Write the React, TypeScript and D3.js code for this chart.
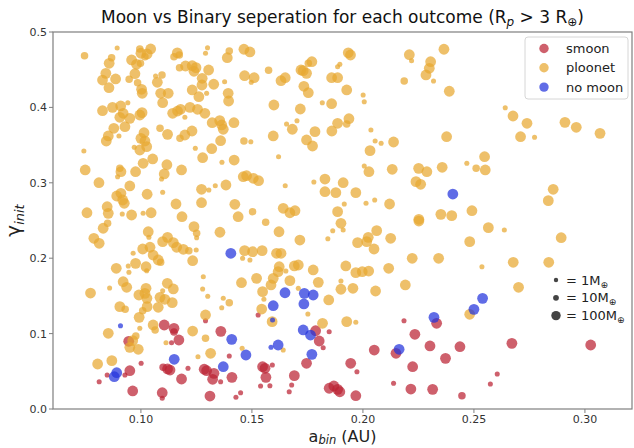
import React from "react";
import * as d3 from "d3";

// [a_bin (AU), gamma_init, planet mass (M_earth)]
const smoonPoints: [number, number, number][] = [
  [0.1291, 0.1171, 3], [0.1528, 0.1247, 3], [0.1105, 0.1114, 200], [0.1149, 0.107, 200],
  [0.1149, 0.1021, 30], [0.1171, 0.0915, 200], [0.1138, 0.0879, 3], [0.136, 0.103, 200],
  [0.0945, 0.0898, 200], [0.1398, 0.0703, 3], [0.0848, 0.0451, 3], [0.0812, 0.0362, 3],
  [0.0928, 0.0451, 3], [0.095, 0.0508, 200], [0.1001, 0.0606, 3], [0.11, 0.0553, 30],
  [0.112, 0.0531, 200], [0.1131, 0.0517, 200], [0.1183, 0.0398, 200], [0.1212, 0.054, 3],
  [0.1285, 0.0527, 200], [0.1296, 0.0508, 200], [0.1329, 0.0473, 200], [0.1323, 0.0394, 200],
  [0.1359, 0.0362, 3], [0.141, 0.042, 200], [0.1548, 0.0561, 200], [0.1559, 0.054, 200],
  [0.1592, 0.0584, 3], [0.1563, 0.042, 200], [0.1691, 0.0442, 200], [0.1746, 0.0606, 200],
  [0.1539, 0.0305, 3], [0.1581, 0.0309, 3], [0.1679, 0.0318, 3], [0.1668, 0.0229, 3],
  [0.0963, 0.0239, 200], [0.1096, 0.0216, 200], [0.1096, 0.0142, 3], [0.1311, 0.0172, 200],
  [0.1428, 0.0155, 3], [0.1449, 0.0216, 3], [0.1787, 0.1038, 200], [0.1848, 0.1025, 3],
  [0.1803, 0.0902, 200], [0.1821, 0.0813, 3], [0.2185, 0.1171, 3], [0.2332, 0.1137, 200],
  [0.2234, 0.0991, 200], [0.2302, 0.0836, 200], [0.2437, 0.0826, 200], [0.2671, 0.0871, 200],
  [0.3026, 0.0849, 200], [0.2051, 0.0782, 200], [0.2149, 0.0739, 200], [0.2372, 0.0672, 200],
  [0.1945, 0.0606, 200], [0.2224, 0.0561, 200], [0.1973, 0.0495, 3], [0.2605, 0.0464, 3],
  [0.2574, 0.0332, 3], [0.2138, 0.0341, 3], [0.2216, 0.0265, 200], [0.2314, 0.0261, 200],
  [0.2446, 0.0176, 30], [0.1848, 0.0275, 200], [0.1869, 0.0305, 200], [0.1886, 0.0261, 200],
  [0.1896, 0.0229, 200], [0.1968, 0.0176, 200],
];

const ploonetPoints: [number, number, number][] = [
  [0.0746, 0.4686, 30], [0.0893, 0.4788, 3], [0.0995, 0.4775, 30], [0.1044, 0.4775, 200],
  [0.1028, 0.4708, 200], [0.1, 0.4718, 200], [0.0868, 0.4659, 30], [0.0857, 0.4585, 200],
  [0.0958, 0.4629, 200], [0.098, 0.4572, 200], [0.0998, 0.4585, 30], [0.1018, 0.4672, 30],
  [0.1164, 0.4724, 200], [0.1149, 0.4672, 30], [0.1173, 0.4695, 30], [0.13, 0.4792, 3],
  [0.1291, 0.4718, 3], [0.1398, 0.4748, 30], [0.1389, 0.4659, 200], [0.1464, 0.4771, 200],
  [0.1491, 0.4735, 200], [0.1174, 0.4527, 30], [0.1201, 0.4549, 200], [0.1231, 0.4553, 200],
  [0.1248, 0.4527, 200], [0.1239, 0.4479, 200], [0.1305, 0.4496, 200], [0.0842, 0.4452, 200],
  [0.0827, 0.4363, 200], [0.0886, 0.4377, 200], [0.0856, 0.4261, 200], [0.0947, 0.4373, 30],
  [0.0973, 0.4447, 200], [0.0985, 0.4328, 30], [0.1003, 0.424, 200], [0.1006, 0.4187, 200],
  [0.1066, 0.4416, 3], [0.1095, 0.443, 30], [0.1074, 0.4333, 200], [0.1089, 0.4187, 200],
  [0.1123, 0.4187, 200], [0.1098, 0.4062, 200], [0.1276, 0.4386, 200], [0.1275, 0.4297, 200],
  [0.1231, 0.4231, 200], [0.1261, 0.4142, 200], [0.1296, 0.4187, 3], [0.1328, 0.4307, 200],
  [0.1377, 0.4341, 3], [0.1393, 0.4187, 200], [0.1395, 0.4085, 200], [0.1467, 0.442, 200],
  [0.151, 0.4394, 200], [0.1497, 0.4333, 3], [0.1575, 0.4492, 30], [0.1631, 0.4354, 200],
  [0.165, 0.4394, 200], [0.1721, 0.4496, 200], [0.1754, 0.4585, 30], [0.1734, 0.428, 200],
  [0.1754, 0.4195, 200], [0.1599, 0.4032, 200], [0.1718, 0.3979, 200], [0.0827, 0.3956, 200],
  [0.0872, 0.4001, 200], [0.0909, 0.4019, 200], [0.0941, 0.4062, 3], [0.092, 0.3922, 200],
  [0.0905, 0.3869, 200], [0.095, 0.3855, 200], [0.0928, 0.3744, 200], [0.0878, 0.3723, 200],
  [0.0995, 0.3899, 200], [0.1005, 0.393, 200], [0.1143, 0.3922, 200], [0.1165, 0.3952, 200],
  [0.1179, 0.3975, 200], [0.1198, 0.3869, 3], [0.1221, 0.4001, 200], [0.1255, 0.3975, 200],
  [0.1288, 0.3922, 200], [0.1321, 0.3797, 200], [0.1355, 0.3824, 200], [0.1364, 0.3767, 200],
  [0.1371, 0.371, 200], [0.1419, 0.3797, 200], [0.0853, 0.3621, 200], [0.0844, 0.3554, 200],
  [0.0901, 0.3621, 3], [0.1014, 0.3664, 200], [0.1, 0.359, 200], [0.1018, 0.3554, 200],
  [0.097, 0.3471, 3], [0.0995, 0.3435, 200], [0.1026, 0.3479, 200], [0.1086, 0.3723, 30],
  [0.112, 0.3643, 200], [0.1176, 0.359, 30], [0.1198, 0.3634, 200], [0.123, 0.3687, 200],
  [0.1359, 0.3558, 200], [0.1245, 0.3458, 3], [0.1319, 0.3452, 200], [0.1464, 0.3554, 30],
  [0.1495, 0.3545, 3], [0.1596, 0.3621, 200], [0.1656, 0.378, 3], [0.1682, 0.371, 200],
  [0.1703, 0.3824, 3], [0.1746, 0.3568, 200], [0.0743, 0.3422, 3], [0.1278, 0.3333, 200],
  [0.1365, 0.3272, 3], [0.142, 0.3302, 200], [0.162, 0.3346, 3], [0.1053, 0.3316, 200],
  [0.101, 0.3259, 200], [0.0749, 0.317, 200], [0.0905, 0.3192, 30], [0.091, 0.3147, 200],
  [0.0895, 0.3081, 3], [0.0976, 0.3147, 200], [0.1117, 0.324, 200], [0.1105, 0.3117, 200],
  [0.1093, 0.305, 3], [0.1183, 0.317, 200], [0.0811, 0.3001, 200], [0.095, 0.2958, 200],
  [0.1461, 0.3081, 200], [0.1476, 0.3094, 200], [0.1506, 0.306, 200], [0.153, 0.3028, 200],
  [0.1273, 0.2914, 200], [0.1306, 0.2905, 3], [0.1335, 0.2962, 3], [0.1383, 0.2971, 200],
  [0.165, 0.2962, 3], [0.0891, 0.2825, 200], [0.091, 0.2861, 200], [0.0925, 0.2728, 200],
  [0.0918, 0.2772, 200], [0.1028, 0.2848, 200], [0.1098, 0.2874, 3], [0.1158, 0.2719, 200],
  [0.1273, 0.2736, 200], [0.1423, 0.2715, 200], [0.0848, 0.2683, 200], [0.0853, 0.2595, 200],
  [0.0757, 0.2603, 200], [0.0916, 0.2586, 3], [0.0958, 0.2573, 200], [0.101, 0.2595, 3],
  [0.1046, 0.2603, 200], [0.1185, 0.255, 200], [0.1438, 0.255, 200], [0.1503, 0.2617, 30],
  [0.1641, 0.2662, 200], [0.1671, 0.2603, 200], [0.1694, 0.263, 200],
  [0.2365, 0.4771, 200], [0.2209, 0.4699, 200], [0.2219, 0.4619, 3], [0.2305, 0.4606, 200],
  [0.2299, 0.4519, 200], [0.2284, 0.443, 200], [0.2186, 0.435, 30], [0.2318, 0.435, 3],
  [0.2389, 0.4214, 200], [0.1934, 0.4724, 200], [0.1944, 0.4695, 200], [0.177, 0.4606, 200],
  [0.1731, 0.4487, 200], [0.1746, 0.4452, 200], [0.1896, 0.4572, 3], [0.1886, 0.454, 3],
  [0.1859, 0.4394, 200], [0.1886, 0.4394, 200], [0.1927, 0.4231, 200], [0.2001, 0.4164, 3],
  [0.2006, 0.4076, 3], [0.1817, 0.4062, 3], [0.1859, 0.4049, 200], [0.1937, 0.385, 200],
  [0.1886, 0.3789, 200], [0.1927, 0.378, 30], [0.186, 0.3687, 200], [0.1784, 0.3678, 200],
  [0.1773, 0.3488, 200], [0.2036, 0.37, 3], [0.2055, 0.3554, 3], [0.2082, 0.3524, 3],
  [0.2138, 0.3541, 200], [0.2032, 0.3426, 200], [0.2377, 0.3611, 200], [0.2641, 0.3996, 3],
  [0.2676, 0.3886, 200], [0.2739, 0.3789, 200], [0.271, 0.3611, 200], [0.2773, 0.3603, 3],
  [0.291, 0.3802, 200], [0.2961, 0.3736, 200], [0.3068, 0.3656, 200], [0.2006, 0.3223, 3],
  [0.2027, 0.3147, 200], [0.2132, 0.3179, 200], [0.2251, 0.3192, 200], [0.2288, 0.3147, 200],
  [0.2357, 0.3206, 200], [0.2468, 0.3259, 3], [0.251, 0.3192, 30], [0.2551, 0.317, 200],
  [0.2548, 0.3346, 200], [0.1779, 0.3011, 3], [0.1829, 0.305, 200], [0.1911, 0.3001, 200],
  [0.1829, 0.2882, 200], [0.1878, 0.2869, 200], [0.1968, 0.2869, 200], [0.2239, 0.3015, 200],
  [0.226, 0.298, 200], [0.2857, 0.2914, 200], [0.2835, 0.2763, 200], [0.1916, 0.2719, 3],
  [0.2014, 0.2728, 3], [0.2053, 0.2772, 3], [0.212, 0.2719, 200], [0.1886, 0.2617, 200],
  [0.2351, 0.2582, 200], [0.24, 0.2564, 200], [0.2491, 0.263, 200], [0.2252, 0.2516, 200],
  [0.083, 0.2397, 200], [0.085, 0.2463, 30], [0.0788, 0.2264, 200], [0.0812, 0.2198, 200],
  [0.1033, 0.2351, 200], [0.1036, 0.2277, 3], [0.1239, 0.2418, 200], [0.1251, 0.233, 30],
  [0.1251, 0.2272, 3], [0.1356, 0.2344, 200], [0.1562, 0.2476, 30], [0.1622, 0.2351, 200],
  [0.1716, 0.2241, 200], [0.1098, 0.2219, 200], [0.112, 0.2277, 200], [0.1146, 0.2206, 200],
  [0.1161, 0.2145, 200], [0.1191, 0.2118, 200], [0.1216, 0.21, 30], [0.1249, 0.2109, 3],
  [0.1008, 0.2122, 200], [0.1041, 0.2145, 200], [0.1055, 0.2042, 200], [0.1078, 0.1976, 200],
  [0.1089, 0.1946, 30], [0.0965, 0.2065, 3], [0.1233, 0.1967, 200], [0.0976, 0.1932, 200],
  [0.0943, 0.1897, 3], [0.0946, 0.1813, 3], [0.1023, 0.1887, 200], [0.1026, 0.1834, 3],
  [0.0889, 0.1866, 200], [0.1467, 0.21, 200], [0.1503, 0.2086, 200], [0.1546, 0.21, 200],
  [0.1458, 0.1999, 3], [0.1491, 0.1976, 3], [0.1611, 0.2065, 200], [0.1631, 0.2065, 200],
  [0.1691, 0.1897, 200], [0.1709, 0.191, 200], [0.1623, 0.1887, 200], [0.1618, 0.1821, 200],
  [0.1653, 0.183, 3], [0.1281, 0.1755, 3], [0.092, 0.1688, 200], [0.0936, 0.1614, 200],
  [0.0859, 0.1605, 3], [0.0773, 0.1538, 200], [0.1119, 0.1667, 200], [0.1146, 0.1592, 200],
  [0.1098, 0.1569, 3], [0.1023, 0.1601, 200], [0.1018, 0.1534, 200], [0.0991, 0.1512, 200],
  [0.1027, 0.1468, 200], [0.1453, 0.1675, 200], [0.1521, 0.1733, 200], [0.1596, 0.1733, 200],
  [0.1586, 0.1645, 200], [0.1671, 0.1702, 200], [0.1278, 0.1592, 3], [0.1301, 0.1495, 3],
  [0.1548, 0.1556, 200], [0.1554, 0.1455, 3], [0.1709, 0.1601, 3], [0.1086, 0.1481, 200],
  [0.1108, 0.1455, 200], [0.1141, 0.141, 200], [0.1078, 0.1349, 200], [0.1028, 0.1357, 200],
  [0.1008, 0.1304, 30], [0.0992, 0.1216, 200], [0.0905, 0.1357, 200], [0.0929, 0.1322, 30],
  [0.1371, 0.1468, 3], [0.1398, 0.141, 30], [0.1364, 0.1343, 3], [0.1291, 0.1247, 200],
  [0.1544, 0.1326, 200], [0.1591, 0.1158, 200], [0.1752, 0.126, 3], [0.0995, 0.107, 3],
  [0.1055, 0.1114, 200], [0.1064, 0.1048, 30], [0.1113, 0.0879, 3], [0.1233, 0.1034, 200],
  [0.1291, 0.0938, 30], [0.0853, 0.1004, 200], [0.0977, 0.0968, 30], [0.0963, 0.0906, 200],
  [0.095, 0.0818, 200], [0.0988, 0.0792, 200], [0.1456, 0.0805, 3], [0.1641, 0.0782, 3],
  [0.1314, 0.0739, 200], [0.1257, 0.0694, 3], [0.0805, 0.0597, 200], [0.0869, 0.0641, 200],
  [0.1901, 0.2463, 200], [0.1864, 0.2365, 3], [0.1911, 0.2374, 3], [0.2062, 0.2365, 200],
  [0.2024, 0.2277, 200], [0.1976, 0.2206, 200], [0.2017, 0.2219, 200], [0.205, 0.2122, 200],
  [0.2125, 0.2264, 200], [0.1842, 0.2259, 3], [0.2252, 0.2493, 200], [0.2565, 0.2405, 200],
  [0.2637, 0.2374, 3], [0.2481, 0.2219, 200], [0.2893, 0.2272, 200], [0.2222, 0.1999, 200],
  [0.2341, 0.1999, 200], [0.2677, 0.1946, 200], [0.2837, 0.1946, 200], [0.2536, 0.1887, 3],
  [0.1923, 0.1897, 200], [0.1776, 0.1844, 200], [0.1968, 0.1808, 200], [0.1997, 0.1821, 200],
  [0.2026, 0.183, 200], [0.2116, 0.1866, 200], [0.1799, 0.168, 200], [0.1901, 0.1698, 3],
  [0.1901, 0.1588, 200], [0.1955, 0.1601, 200], [0.2057, 0.1565, 200], [0.2191, 0.1645, 200],
  [0.2701, 0.1614, 200], [0.1846, 0.1446, 200], [0.1818, 0.1137, 200], [0.1927, 0.1158, 200],
  [0.1968, 0.115, 3], [0.2481, 0.1256, 200],
];

const noMoonPoints: [number, number, number][] = [
  [0.2405, 0.2851, 200], [0.1405, 0.2065, 200], [0.1649, 0.1542, 200], [0.1736, 0.1534, 200],
  [0.1734, 0.1393, 200], [0.1596, 0.137, 200], [0.1593, 0.118, 3], [0.0908, 0.1105, 3],
  [0.1409, 0.0924, 200], [0.1473, 0.0716, 200], [0.1618, 0.0849, 200], [0.1586, 0.0818, 3],
  [0.1731, 0.1048, 200], [0.1764, 0.0981, 200], [0.177, 0.0725, 200], [0.115, 0.0659, 200],
  [0.0891, 0.0481, 200], [0.088, 0.0428, 200], [0.1371, 0.0561, 200], [0.1776, 0.1512, 200],
  [0.232, 0.1216, 200], [0.2539, 0.1468, 200], [0.25, 0.1322, 200], [0.2163, 0.0792, 200],
];

const outcomes = ["smoon", "ploonet", "no moon"];
const outcomeColors = ["#bb2233", "#e8a830", "#2233dd"];
const xTicks = [0.1, 0.15, 0.2, 0.25, 0.3];
const yTicks = [0, 0.1, 0.2, 0.3, 0.4, 0.5];
const sizeLegendMasses = [1, 10, 100];

const W = 634, H = 448;
const L = 53, R = 632, T = 32, B = 409;
const FONT = "DejaVu Sans, sans-serif";

export default function App() {
  const x = d3.scaleLinear().domain([0.0604, 0.3212]).range([L, R]);
  const y = d3.scaleLinear().domain([0, 0.5]).range([B, T]);
  const r = d3.scaleLog().domain([1, 10, 100, 1000]).range([2.2, 2.9, 4.7, 7.0]);
  const groups = [smoonPoints, ploonetPoints, noMoonPoints];
  const fx = d3.format(".2f");
  const fy = d3.format(".1f");
  const axisColor = "#7f7f7f";
  const textColor = "#333";

  return (
    <svg width={W} height={H} style={{ position: "absolute", left: 0, top: 0 }} fontFamily={FONT}>
      <rect x={0} y={0} width={W} height={H} fill="#fff" />
      <defs>
        <clipPath id="plotclip">
          <rect x={L} y={T} width={R - L} height={B - T} />
        </clipPath>
      </defs>
      <g clipPath="url(#plotclip)">
        {groups.map((pts, gi) => (
          <g key={gi} fill={outcomeColors[gi]} fillOpacity={0.72}>
            {pts.map((p, i) => (
              <circle key={i} cx={x(p[0])} cy={y(p[1])} r={r(p[2])} />
            ))}
          </g>
        ))}
      </g>
      {/* spines */}
      <rect x={L} y={T} width={R - L} height={B - T} fill="none" stroke={axisColor} strokeWidth={1.2} />
      {/* x ticks */}
      {xTicks.map((t) => (
        <g key={t}>
          <line x1={x(t)} x2={x(t)} y1={B} y2={B + 4} stroke={axisColor} />
          <text x={x(t)} y={B + 14} textAnchor="middle" fontSize={11} fill={textColor}>{fx(t)}</text>
        </g>
      ))}
      {yTicks.map((t) => (
        <g key={t}>
          <line x1={L - 4} x2={L} y1={y(t)} y2={y(t)} stroke={axisColor} />
          <text x={L - 6} y={y(t) + 4} textAnchor="end" fontSize={11} fill={textColor}>{fy(t)}</text>
        </g>
      ))}
      {/* title */}
      <text x={(L + R) / 2} y={23} textAnchor="middle" fontSize={17} fill="#111">
        Moon vs Binary seperation for each outcome (R<tspan dy={3} fontSize={12} fontStyle="italic">p</tspan>
        <tspan dy={-3}> &gt; 3 R</tspan><tspan dy={3} fontSize={12}>⊕</tspan><tspan dy={-3}>)</tspan>
      </text>
      {/* x label */}
      <text x={(L + R) / 2} y={442} textAnchor="middle" fontSize={16} fill="#222">
        a<tspan dy={2} fontSize={11.5} fontStyle="italic">bin</tspan><tspan dy={-2}> (AU)</tspan>
      </text>
      {/* y label */}
      <text transform={`translate(20,${(T + B) / 2}) rotate(-90)`} textAnchor="middle" fontSize={20} fill="#222">
        <tspan>γ</tspan><tspan dy={4} fontSize={13} fontStyle="italic">init</tspan>
      </text>
      {/* legend */}
      <rect x={525} y={37} width={103} height={62} rx={3} fill="#fff" fillOpacity={0.8} stroke="#d6d6d6" />
      {outcomes.map((o, i) => (
        <g key={o}>
          <circle cx={544} cy={48.5 + i * 19.3} r={4.7} fill={outcomeColors[i]} fillOpacity={0.72} />
          <text x={566} y={48.5 + i * 19.3 + 4.5} fontSize={13} fill="#222">{o}</text>
        </g>
      ))}
      {/* size legend */}
      {sizeLegendMasses.map((m, i) => (
        <g key={m}>
          <circle cx={556} cy={280 + i * 17.8} r={r(m)} fill="#444" />
          <text x={566} y={280 + i * 17.8 + 4.5} fontSize={13} fill="#222">
            = {m}M<tspan dy={3} fontSize={9}>⊕</tspan>
          </text>
        </g>
      ))}
    </svg>
  );
}
